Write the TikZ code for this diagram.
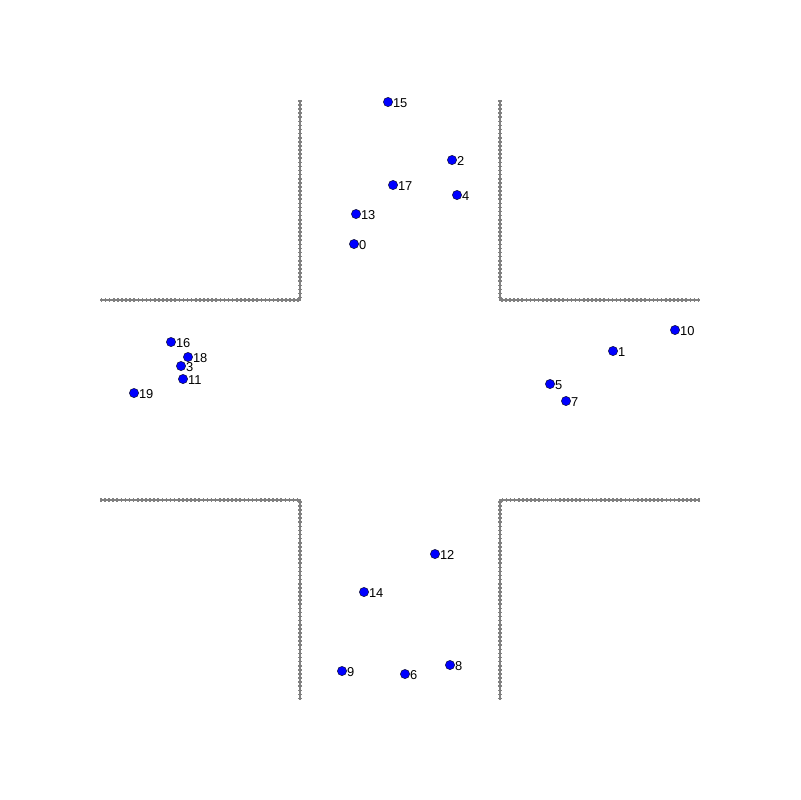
\documentclass[tikz,border=0pt]{standalone}
\usepackage{fontspec}
\setsansfont{Liberation Sans}
\usetikzlibrary{positioning}
\definecolor{crWall}{HTML}{808080}
\definecolor{crCar}{HTML}{0000FF}
\tikzset{
  wall/.style={draw=crWall, line width=1.4pt},
  wallbead/.style={draw=crWall, line width=3.6pt, dash pattern=on 1.4pt off 2.1pt},
  car/.style={circle, draw=black, line width=0.3pt, fill=crCar, minimum size=2.8mm, inner sep=0pt},
  carlabel/.style={font=\sffamily\fontsize{11}{11}\selectfont, inner sep=0pt}
}
\begin{document}
\begin{tikzpicture}[x=0.3mm, y=-0.3mm]
  \useasboundingbox (0,0) rectangle (800,800);
  % walls of the crossing
  \foreach \s in {wall, wallbead}{
    \draw[\s] (300,100) -- (300,300) -- (100,300);
    \draw[\s] (500,100) -- (500,300) -- (700,300);
    \draw[\s] (100,500) -- (300,500) -- (300,700);
    \draw[\s] (700,500) -- (500,500) -- (500,700);
  }
  % vehicles
  \foreach \i/\x/\y in {0/354/244, 1/613/351, 2/452/160, 3/181/366, 4/457/195,
    5/550/384, 6/405/674, 7/566/401, 8/450/665, 9/342/671, 10/675/330,
    11/183/379, 12/435/554, 13/356/214, 14/364/592, 15/388/102, 16/171/342,
    17/393/185, 18/188/357, 19/134/393}{
    \node[car] (p\i) at (\x,\y) {};
    \node[carlabel, right=0pt of p\i.east, yshift=-1pt] (l\i) {\i};
  }
\end{tikzpicture}
\end{document}
